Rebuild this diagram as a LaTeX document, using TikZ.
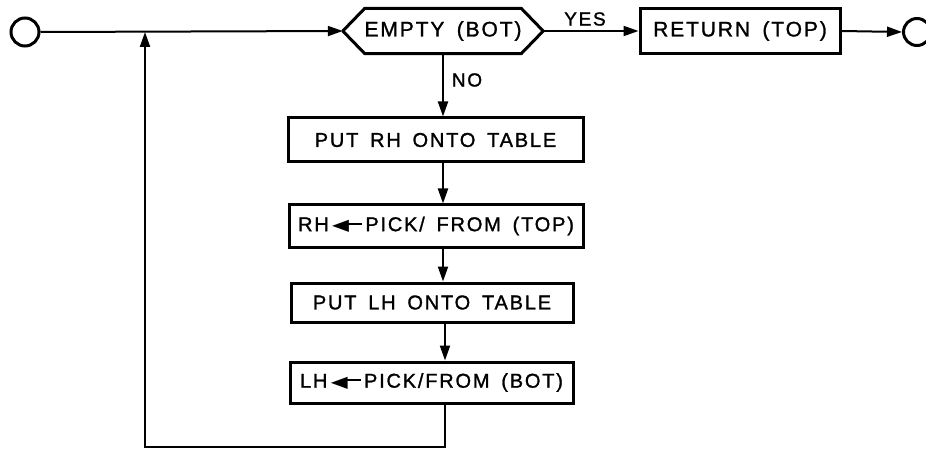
\documentclass[tikz,border=0pt]{standalone}
\usepackage{fontspec}
\setmainfont{Liberation Sans}[LetterSpace=9, WordSpace=1.6, FakeBold=1.3]
\newfontfamily\dejavu{DejaVu Sans}
\usetikzlibrary{arrows.meta}
\tikzset{
  boxst/.style={draw, line width=3pt, rectangle, inner sep=0pt, font=\fontsize{20}{23}\selectfont},
  hexst/.style={inner sep=0pt, minimum width=200pt, minimum height=45pt, font=\fontsize{21}{24}\selectfont},
  termst/.style={draw, circle, line width=3pt, inner sep=0pt},
  lbl/.style={inner sep=0pt, font=\fontsize{19}{22}\selectfont},
  conn/.style={line width=2pt},
  arr/.style={conn, -{Triangle[length=15pt,width=10pt]}},
}
\newcommand{\lftarr}{\,{\dejavu\addfontfeatures{LetterSpace=0}\raisebox{0.5pt}{\scalebox{1.1}[0.8]{◀}}}\kern-2pt\rule[0.33em]{0.75em}{1.8pt}\,}
\begin{document}
\begin{tikzpicture}[x=1pt,y=-1pt]
\useasboundingbox (0,0) rectangle (926,449);
% terminals
\node[termst, minimum size=28pt] (start) at (25,32) {};
\node[termst, minimum size=27pt] (stop) at (917,32) {};
% decision
\node[hexst] (hex) at (443,31) {EMPTY (BOT)};
\draw[line width=3pt, line join=round]
  (hex.west) -- ([xshift=22pt]hex.north west) -- ([xshift=-22pt]hex.north east)
  -- (hex.east) -- ([xshift=-22pt]hex.south east) -- ([xshift=22pt]hex.south west) -- cycle;
% return
\node[boxst, minimum width=200pt, minimum height=45pt, font=\fontsize{21}{24}\selectfont] (ret) at (740,31) {RETURN (TOP)};
% boxes
\node[boxst, minimum width=295pt, minimum height=44pt] (b1) at (435.5,140) {PUT RH ONTO TABLE};
\node[boxst, minimum width=294pt, minimum height=42pt] (b2) at (436,226) {RH\lftarr PICK/ FROM (TOP)};
\node[boxst, minimum width=282pt, minimum height=39pt] (b3) at (432,302.5) {PUT LH ONTO TABLE};
\node[boxst, minimum width=283pt, minimum height=41pt] (b4) at (431.5,382.5) {LH\lftarr PICK/FROM (BOT)};
% labels
\node[lbl] (yes) at (585,19) {YES};
\node[lbl] (no) at (467,80) {NO};
% junction and loop corners
\coordinate (j) at (145,32);
\coordinate (lbr) at (445,447);
\coordinate (lbl) at (145,447);
% connectors
\draw[arr] (start.east) -- (hex.west);
\draw[arr] (hex.east) -- (ret.west);
\draw[arr] (ret.east) -- (stop.west);
\draw[arr] (hex.south) -- (hex.south |- b1.north);
\draw[arr] (b1.south -| hex.south) -- (hex.south |- b2.north);
\draw[arr] (b2.south -| hex.south) -- (hex.south |- b3.north);
\draw[arr] (b3.south -| lbr) -- (lbr |- b4.north);
\draw[arr] (b4.south -| lbr) -- (lbr) -- (lbl) -- (j);
\end{tikzpicture}
\end{document}
